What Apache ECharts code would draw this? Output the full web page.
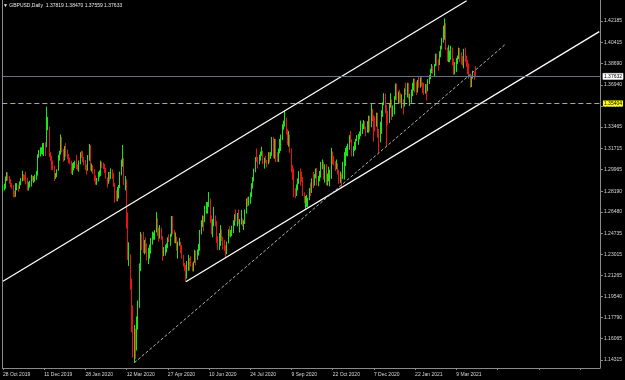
<!DOCTYPE html>
<html>
<head>
<meta charset="utf-8">
<script src="https://cdn.jsdelivr.net/npm/echarts@6/dist/echarts.min.js"></script>
<style>
  html, body { margin: 0; padding: 0; background: #000; }
  #chart { width: 625px; height: 380px; }
</style>
</head>
<body>
<div id="chart"></div>
<script>
// GBPUSD daily bars, rows are [open, high, low, close]
var oct2019 = [
  [1.2829,1.2868,1.2811,1.2857],[1.2857,1.2882,1.2826,1.2862],[1.2862,1.2940,1.2840,1.2925],[1.2925,1.2976,1.2903,1.2944]
];
var nov2019 = [
  [1.2944,1.2974,1.2906,1.2932],[1.2932,1.2943,1.2880,1.2892],[1.2892,1.2920,1.2853,1.2870],[1.2870,1.2885,1.2839,1.2860],
  [1.2860,1.2870,1.2770,1.2794],[1.2794,1.2823,1.2768,1.2773],[1.2773,1.2885,1.2773,1.2857],[1.2857,1.2885,1.2826,1.2858],
  [1.2858,1.2868,1.2815,1.2848],[1.2848,1.2900,1.2838,1.2891],[1.2891,1.2928,1.2868,1.2907],[1.2907,1.2987,1.2900,1.2941],
  [1.2941,1.2960,1.2905,1.2938],[1.2938,1.2954,1.2905,1.2932],[1.2932,1.2980,1.2875,1.2915],[1.2915,1.2930,1.2824,1.2834],
  [1.2834,1.2897,1.2825,1.2865],[1.2865,1.2905,1.2850,1.2866],[1.2866,1.2953,1.2858,1.2926],[1.2926,1.2946,1.2901,1.2915],
  [1.2915,1.2943,1.2887,1.2930]
];
var dec2019 = [
  [1.2930,1.2955,1.2897,1.2942],[1.2942,1.2986,1.2913,1.2954],[1.2954,1.3122,1.2947,1.3115],[1.3115,1.3158,1.3094,1.3148],
  [1.3148,1.3180,1.3105,1.3154],[1.3154,1.3180,1.3126,1.3154],[1.3154,1.3215,1.3119,1.3190],[1.3190,1.3215,1.3108,1.3200],
  [1.3200,1.3222,1.3107,1.3180],[1.3180,1.3514,1.3180,1.3329],[1.3329,1.3430,1.3320,1.3336],[1.3336,1.3350,1.3100,1.3110],
  [1.3110,1.3140,1.3070,1.3082],[1.3082,1.3110,1.2995,1.3030],[1.3030,1.3072,1.2991,1.3005],[1.3005,1.3030,1.2904,1.2932],
  [1.2932,1.2968,1.2920,1.2950],[1.2950,1.3000,1.2935,1.2990],[1.2990,1.3118,1.2987,1.3076],[1.3076,1.3152,1.3070,1.3121],
  [1.3121,1.3285,1.3119,1.3255]
];
var jan2020 = [
  [1.3255,1.3265,1.3139,1.3148],[1.3148,1.3167,1.3060,1.3079],[1.3079,1.3190,1.3072,1.3187],[1.3187,1.3214,1.3102,1.3130],
  [1.3130,1.3162,1.3081,1.3105],[1.3105,1.3125,1.3050,1.3068],[1.3068,1.3095,1.3040,1.3061],[1.3061,1.3070,1.2960,1.2994],
  [1.2994,1.3050,1.2953,1.3022],[1.3022,1.3059,1.2990,1.3033],[1.3033,1.3070,1.3009,1.3068],[1.3068,1.3118,1.3001,1.3010],
  [1.3010,1.3040,1.2990,1.3003],[1.3003,1.3072,1.2980,1.3045],[1.3045,1.3140,1.3040,1.3126],[1.3126,1.3152,1.3092,1.3113],
  [1.3113,1.3148,1.3060,1.3083],[1.3083,1.3100,1.3033,1.3070],[1.3070,1.3075,1.2992,1.3004],[1.3004,1.3040,1.2955,1.3001],
  [1.3001,1.3116,1.2987,1.3097],[1.3097,1.3208,1.3069,1.3200]
];
var feb2020 = [
  [1.3200,1.3200,1.2990,1.2998],[1.2998,1.3047,1.2980,1.3015],[1.3015,1.3034,1.2960,1.2993],[1.2993,1.3000,1.2900,1.2935],
  [1.2935,1.2950,1.2872,1.2890],[1.2890,1.2928,1.2871,1.2916],[1.2916,1.2980,1.2900,1.2950],[1.2950,1.2990,1.2934,1.2971],
  [1.2971,1.3070,1.2945,1.3048],[1.3048,1.3062,1.3008,1.3038],[1.3038,1.3055,1.3000,1.3010],[1.3010,1.3043,1.2968,1.2995],
  [1.2995,1.3010,1.2923,1.2925],[1.2925,1.2933,1.2850,1.2880],[1.2880,1.2977,1.2880,1.2960],[1.2960,1.2980,1.2900,1.2925],
  [1.2925,1.3007,1.2920,1.2992],[1.2992,1.2998,1.2920,1.2965],[1.2965,1.2970,1.2855,1.2880],[1.2880,1.2887,1.2725,1.2820]
];
var mar2020 = [
  [1.2820,1.2825,1.2737,1.2767],[1.2767,1.2855,1.2737,1.2810],[1.2810,1.2870,1.2760,1.2846],[1.2846,1.2980,1.2845,1.2964],
  [1.2964,1.3080,1.2950,1.3046],[1.3046,1.3200,1.3020,1.3090],[1.3090,1.3095,1.2870,1.2900],[1.2900,1.2945,1.2827,1.2902],
  [1.2902,1.2916,1.2513,1.2570],[1.2570,1.2645,1.2253,1.2280],[1.2280,1.2400,1.2205,1.2286],[1.2286,1.2300,1.2010,1.2060],
  [1.2060,1.2100,1.1660,1.1778],[1.1778,1.1880,1.1452,1.1590],[1.1590,1.1720,1.1409,1.1649],[1.1649,1.1690,1.1440,1.1525],
  [1.1525,1.1790,1.1510,1.1763],[1.1763,1.1920,1.1680,1.1885],[1.1885,1.2226,1.1860,1.2203],[1.2203,1.2485,1.2162,1.2458],
  [1.2458,1.2468,1.2335,1.2420],[1.2420,1.2485,1.2310,1.2405]
];
var apr2020 = [
  [1.2405,1.2418,1.2300,1.2410],[1.2410,1.2440,1.2310,1.2385],[1.2385,1.2390,1.2250,1.2265],[1.2265,1.2355,1.2220,1.2270],
  [1.2270,1.2380,1.2265,1.2345],[1.2345,1.2435,1.2305,1.2412],[1.2412,1.2487,1.2380,1.2453],[1.2453,1.2480,1.2420,1.2460],
  [1.2460,1.2500,1.2420,1.2495],[1.2495,1.2647,1.2480,1.2590],[1.2590,1.2598,1.2450,1.2480],[1.2480,1.2520,1.2405,1.2445],
  [1.2445,1.2540,1.2430,1.2502],[1.2502,1.2520,1.2420,1.2445],[1.2445,1.2450,1.2247,1.2300],[1.2300,1.2360,1.2285,1.2318],
  [1.2318,1.2380,1.2290,1.2345],[1.2345,1.2390,1.2315,1.2365],[1.2365,1.2440,1.2350,1.2425],[1.2425,1.2465,1.2400,1.2420],
  [1.2420,1.2470,1.2370,1.2465],[1.2465,1.2615,1.2445,1.2590]
];
var may2020 = [
  [1.2590,1.2615,1.2465,1.2490],[1.2490,1.2500,1.2393,1.2435],[1.2435,1.2480,1.2390,1.2440],[1.2440,1.2445,1.2330,1.2340],
  [1.2340,1.2405,1.2265,1.2400],[1.2400,1.2435,1.2370,1.2405],[1.2405,1.2405,1.2310,1.2335],[1.2335,1.2375,1.2265,1.2270],
  [1.2270,1.2296,1.2200,1.2210],[1.2210,1.2230,1.2165,1.2200],[1.2200,1.2212,1.2075,1.2110],[1.2110,1.2245,1.2100,1.2230],
  [1.2230,1.2295,1.2165,1.2250],[1.2250,1.2270,1.2165,1.2235],[1.2235,1.2285,1.2200,1.2225],[1.2225,1.2230,1.2160,1.2165],
  [1.2165,1.2240,1.2160,1.2235],[1.2235,1.2337,1.2230,1.2325],[1.2325,1.2330,1.2210,1.2270],[1.2270,1.2340,1.2255,1.2330],
  [1.2330,1.2385,1.2290,1.2345]
];
var jun2020 = [
  [1.2345,1.2500,1.2330,1.2488],[1.2488,1.2580,1.2465,1.2560],[1.2560,1.2620,1.2525,1.2585],[1.2585,1.2615,1.2490,1.2575],
  [1.2575,1.2700,1.2565,1.2670],[1.2670,1.2730,1.2635,1.2675],[1.2675,1.2730,1.2635,1.2720],[1.2720,1.2812,1.2690,1.2750],
  [1.2750,1.2760,1.2560,1.2590],[1.2590,1.2620,1.2465,1.2545],[1.2545,1.2590,1.2440,1.2560],[1.2560,1.2690,1.2530,1.2570],
  [1.2570,1.2620,1.2530,1.2550],[1.2550,1.2575,1.2395,1.2410],[1.2410,1.2450,1.2335,1.2350],[1.2350,1.2475,1.2335,1.2470],
  [1.2470,1.2540,1.2370,1.2490],[1.2490,1.2505,1.2410,1.2420],[1.2420,1.2445,1.2340,1.2415],[1.2415,1.2420,1.2330,1.2340],
  [1.2340,1.2375,1.2275,1.2305],[1.2305,1.2405,1.2300,1.2400]
];
var jul2020 = [
  [1.2400,1.2505,1.2390,1.2480],[1.2480,1.2530,1.2445,1.2475],[1.2475,1.2500,1.2440,1.2485],[1.2485,1.2535,1.2450,1.2490],
  [1.2490,1.2580,1.2475,1.2545],[1.2545,1.2630,1.2535,1.2610],[1.2610,1.2670,1.2570,1.2575],[1.2575,1.2640,1.2530,1.2615],
  [1.2615,1.2670,1.2545,1.2555],[1.2555,1.2590,1.2480,1.2565],[1.2565,1.2665,1.2545,1.2580],[1.2580,1.2595,1.2530,1.2565],
  [1.2565,1.2580,1.2500,1.2570],[1.2570,1.2670,1.2550,1.2645],[1.2645,1.2760,1.2635,1.2735],[1.2735,1.2770,1.2690,1.2725],
  [1.2725,1.2775,1.2700,1.2730],[1.2730,1.2810,1.2715,1.2790],[1.2790,1.2885,1.2770,1.2880],[1.2880,1.2935,1.2840,1.2930],
  [1.2930,1.3005,1.2900,1.2995],[1.2995,1.3100,1.2975,1.3095],[1.3095,1.3170,1.3060,1.3085]
];
var aug2020 = [
  [1.3085,1.3100,1.3005,1.3075],[1.3075,1.3120,1.3040,1.3085],[1.3085,1.3145,1.3070,1.3135],[1.3135,1.3185,1.3110,1.3145],
  [1.3145,1.3150,1.3040,1.3055],[1.3055,1.3095,1.3005,1.3070],[1.3070,1.3110,1.3050,1.3055],[1.3055,1.3075,1.3015,1.3050],
  [1.3050,1.3140,1.3040,1.3100],[1.3100,1.3140,1.3055,1.3090],[1.3090,1.3140,1.3085,1.3120],[1.3120,1.3265,1.3110,1.3245],
  [1.3245,1.3265,1.3090,1.3095],[1.3095,1.3250,1.3085,1.3240],[1.3240,1.3250,1.3060,1.3090],[1.3090,1.3140,1.3060,1.3085],
  [1.3085,1.3170,1.3060,1.3150],[1.3150,1.3250,1.3130,1.3235],[1.3235,1.3285,1.3150,1.3245],[1.3245,1.3370,1.3240,1.3350],
  [1.3350,1.3400,1.3325,1.3370]
];
var sep2020 = [
  [1.3370,1.3482,1.3350,1.3420],[1.3420,1.3425,1.3285,1.3305],[1.3305,1.3330,1.3200,1.3265],[1.3265,1.3315,1.3185,1.3275],
  [1.3275,1.3285,1.3135,1.3155],[1.3155,1.3170,1.2975,1.2990],[1.2990,1.3035,1.2910,1.2960],[1.2960,1.3005,1.2770,1.2795],
  [1.2795,1.2845,1.2762,1.2790],[1.2790,1.2875,1.2780,1.2850],[1.2850,1.2925,1.2825,1.2910],[1.2910,1.2985,1.2880,1.2950],
  [1.2950,1.3005,1.2865,1.2935],[1.2935,1.2980,1.2895,1.2920],[1.2920,1.2935,1.2780,1.2810],[1.2810,1.2810,1.2720,1.2730],
  [1.2730,1.2780,1.2675,1.2740],[1.2740,1.2790,1.2690,1.2745],[1.2745,1.2765,1.2690,1.2750],[1.2750,1.2845,1.2745,1.2830],
  [1.2830,1.2890,1.2780,1.2820],[1.2820,1.2925,1.2805,1.2920]
];
var oct2020 = [
  [1.2920,1.2980,1.2845,1.2880],[1.2880,1.2960,1.2865,1.2940],[1.2940,1.3005,1.2925,1.2975],[1.2975,1.3010,1.2865,1.2880],
  [1.2880,1.2945,1.2860,1.2925],[1.2925,1.2985,1.2900,1.2940],[1.2940,1.3060,1.2930,1.3045],[1.3045,1.3080,1.3000,1.3050],
  [1.3050,1.3060,1.2915,1.2925],[1.2925,1.3040,1.2890,1.3020],[1.3020,1.3040,1.2865,1.2915],[1.2915,1.2965,1.2865,1.2915],
  [1.2915,1.3020,1.2900,1.2950],[1.2950,1.2995,1.2860,1.2950],[1.2950,1.3175,1.2920,1.3140],[1.3140,1.3145,1.3040,1.3090],
  [1.3090,1.3110,1.3030,1.3040],[1.3040,1.3065,1.2985,1.3035],[1.3035,1.3080,1.3000,1.3040],[1.3040,1.3050,1.2955,1.2980],
  [1.2980,1.2995,1.2880,1.2930],[1.2930,1.2980,1.2885,1.2945]
];
var nov2020 = [
  [1.2945,1.2965,1.2855,1.2930],[1.2930,1.3060,1.2920,1.3050],[1.3050,1.3140,1.2915,1.3050],[1.3050,1.3175,1.3025,1.3145],
  [1.3145,1.3190,1.3110,1.3155],[1.3155,1.3210,1.3105,1.3180],[1.3180,1.3280,1.3160,1.3270],[1.3270,1.3315,1.3220,1.3230],
  [1.3230,1.3245,1.3105,1.3125],[1.3125,1.3190,1.3105,1.3190],[1.3190,1.3225,1.3150,1.3190],[1.3190,1.3250,1.3160,1.3245],
  [1.3245,1.3280,1.3230,1.3260],[1.3260,1.3290,1.3200,1.3265],[1.3265,1.3310,1.3245,1.3285],[1.3285,1.3400,1.3270,1.3325],
  [1.3325,1.3375,1.3290,1.3350],[1.3350,1.3405,1.3330,1.3360],[1.3360,1.3395,1.3325,1.3340],[1.3340,1.3350,1.3270,1.3315],
  [1.3315,1.3395,1.3300,1.3330]
];
var dec2020 = [
  [1.3330,1.3440,1.3300,1.3365],[1.3365,1.3440,1.3310,1.3360],[1.3360,1.3540,1.3345,1.3450],[1.3450,1.3495,1.3395,1.3440],
  [1.3440,1.3445,1.3225,1.3385],[1.3385,1.3435,1.3310,1.3365],[1.3365,1.3465,1.3350,1.3460],[1.3460,1.3465,1.3260,1.3290],
  [1.3290,1.3330,1.3135,1.3225],[1.3225,1.3390,1.3220,1.3320],[1.3320,1.3485,1.3290,1.3470],[1.3470,1.3550,1.3430,1.3550],
  [1.3550,1.3625,1.3525,1.3590],[1.3590,1.3620,1.3460,1.3510],[1.3510,1.3530,1.3190,1.3450],[1.3450,1.3480,1.3365,1.3395],
  [1.3395,1.3540,1.3380,1.3530],[1.3530,1.3625,1.3505,1.3555],[1.3555,1.3575,1.3405,1.3445],[1.3445,1.3525,1.3430,1.3460],
  [1.3460,1.3600,1.3450,1.3580],[1.3580,1.3705,1.3570,1.3670]
];
var jan2021 = [
  [1.3670,1.3705,1.3565,1.3570],[1.3570,1.3640,1.3540,1.3615],[1.3615,1.3655,1.3545,1.3605],[1.3605,1.3625,1.3540,1.3560],
  [1.3560,1.3615,1.3500,1.3565],[1.3565,1.3575,1.3450,1.3520],[1.3520,1.3665,1.3515,1.3650],[1.3650,1.3710,1.3610,1.3640],
  [1.3640,1.3710,1.3590,1.3680],[1.3680,1.3710,1.3575,1.3590],[1.3590,1.3620,1.3520,1.3590],[1.3590,1.3655,1.3545,1.3640],
  [1.3640,1.3710,1.3600,1.3665],[1.3665,1.3745,1.3645,1.3730],[1.3730,1.3745,1.3630,1.3685],[1.3685,1.3720,1.3610,1.3680],
  [1.3680,1.3735,1.3630,1.3725],[1.3725,1.3760,1.3670,1.3690],[1.3690,1.3755,1.3670,1.3740],[1.3740,1.3760,1.3680,1.3705]
];
var feb2021 = [
  [1.3705,1.3715,1.3625,1.3665],[1.3665,1.3710,1.3610,1.3650],[1.3650,1.3700,1.3620,1.3675],[1.3675,1.3700,1.3565,1.3665],
  [1.3665,1.3740,1.3640,1.3730],[1.3730,1.3775,1.3700,1.3750],[1.3750,1.3825,1.3740,1.3810],[1.3810,1.3865,1.3790,1.3830],
  [1.3830,1.3850,1.3785,1.3820],[1.3820,1.3865,1.3765,1.3850],[1.3850,1.3950,1.3845,1.3920],[1.3920,1.3950,1.3850,1.3880],
  [1.3880,1.3905,1.3810,1.3870],[1.3870,1.3970,1.3855,1.3960],[1.3960,1.4015,1.3920,1.4010],[1.4010,1.4080,1.3985,1.4060],
  [1.4060,1.4180,1.4040,1.4090],[1.4090,1.4240,1.4065,1.4150],[1.4150,1.4200,1.3980,1.3990],[1.3990,1.4000,1.3885,1.3930]
];
var mar2021 = [
  [1.3930,1.4020,1.3880,1.3935],[1.3935,1.3975,1.3880,1.3950],[1.3950,1.4015,1.3900,1.3960],[1.3960,1.4000,1.3855,1.3895],
  [1.3895,1.3910,1.3775,1.3830],[1.3830,1.3880,1.3780,1.3830],[1.3830,1.3915,1.3800,1.3890],[1.3890,1.3935,1.3865,1.3925],
  [1.3925,1.4000,1.3905,1.3990],[1.3990,1.3995,1.3880,1.3930],[1.3930,1.3960,1.3860,1.3910],[1.3910,1.3930,1.3850,1.3880],
  [1.3880,1.3990,1.3830,1.3960],[1.3960,1.4000,1.3880,1.3920],[1.3920,1.3935,1.3840,1.3865],[1.3865,1.3900,1.3780,1.3860],
  [1.3860,1.3870,1.3745,1.3745],[1.3745,1.3780,1.3670,1.3680],[1.3680,1.3770,1.3675,1.3760],[1.3760,1.3810,1.3745,1.3790],
  [1.3790,1.3800,1.3735,1.3782],[1.37819,1.38470,1.37559,1.37633]
];

// price scale labels on the right
var yTicks = [1.42185, 1.40415, 1.38690, 1.36940, 1.35190, 1.33465, 1.31715, 1.29965, 1.28190,
              1.26480, 1.24735, 1.23015, 1.21265, 1.19540, 1.17790, 1.16065, 1.14315];
// time scale labels, one every 32 bars
var xLabels = ["28 Oct 2019", "11 Dec 2019", "28 Jan 2020", "12 Mar 2020", "27 Apr 2020", "10 Jun 2020",
               "24 Jul 2020", "9 Sep 2020", "22 Oct 2020", "7 Dec 2020", "22 Jan 2021", "9 Mar 2021"];

var bidPrice = 1.37632;
var levelPrice = 1.35404;
var titleText = "\u25BC GBPUSD,Daily  1.37819 1.38470 1.37559 1.37633";

// trend line anchors: [bar index, price]
var channelTop = [[0, 1.2079], [360, 1.4385]];
var channelBottom = [[142, 1.2075], [463, 1.4131]];
var supportLine = [[102, 1.1409], [390, 1.4026]];

var SLOTS = 464;   // bars that fit across the chart window
var MONTHS = ["Jan","Feb","Mar","Apr","May","Jun","Jul","Aug","Sep","Oct","Nov","Dec"];

var rows = [].concat(oct2019, nov2019, dec2019, jan2020, feb2020, mar2020, apr2020, may2020, jun2020,
  jul2020, aug2020, sep2020, oct2020, nov2020, dec2020, jan2021, feb2021, mar2021);

// trading days (no weekends, no 25 Dec / 1 Jan)
var categories = [];
var d = new Date(2019, 9, 28);
while (categories.length < SLOTS) {
  var wd = d.getDay();
  var holiday = (d.getMonth() === 11 && d.getDate() === 25) || (d.getMonth() === 0 && d.getDate() === 1);
  if (wd !== 0 && wd !== 6 && !holiday) {
    categories.push(d.getDate() + " " + MONTHS[d.getMonth()] + " " + d.getFullYear());
  }
  d.setDate(d.getDate() + 1);
}

var candles = rows.map(function(r) {
  return [r[0], r[3], r[2], r[1]];
});

function segment(pts, style) {
  return [
    { coord: [categories[pts[0][0]], pts[0][1]], lineStyle: style, label: { show: false } },
    { coord: [categories[pts[1][0]], pts[1][1]] }
  ];
}

var FONT = "'Liberation Sans', Arial, sans-serif";
var GREY = "#8a8a8a";
var TXT = "#d8d8d8";
var yMin = 1.13657, yMax = 1.43911;

var chart = echarts.init(document.getElementById("chart"), null, { renderer: "canvas" });

chart.setOption({
  backgroundColor: "#000000",
  animation: false,
  title: {
    text: titleText,
    left: 3,
    top: 3,
    padding: 0,
    textStyle: { color: "#e8e8e8", fontSize: 5, fontWeight: "normal", fontFamily: FONT }
  },
  grid: { left: 1, right: 24, top: 0, bottom: 12, containLabel: false },
  xAxis: {
    type: "category",
    data: categories,
    boundaryGap: true,
    axisLine: { show: true, lineStyle: { color: GREY, width: 1 } },
    axisTick: { show: true, interval: 31, alignWithLabel: true, length: 2, lineStyle: { color: GREY } },
    axisLabel: {
      interval: 31,
      align: "left",
      margin: 4,
      color: TXT,
      fontSize: 5,
      fontFamily: FONT,
      formatter: function(value, index) {
        return xLabels[index / 32] || "";
      }
    },
    splitLine: { show: false }
  },
  yAxis: [{
    type: "value",
    position: "right",
    min: yMin,
    max: yMax,
    axisLine: { show: true, lineStyle: { color: GREY, width: 1 } },
    axisTick: { show: true, length: 3, customValues: yTicks, lineStyle: { color: GREY } },
    axisLabel: {
      customValues: yTicks,
      margin: 4,
      color: TXT,
      fontSize: 5,
      fontFamily: FONT,
      formatter: function(v) { return v.toFixed(5); }
    },
    splitLine: { show: false }
  }, {
    type: "value",
    position: "left",
    min: yMin,
    max: yMax,
    axisLine: { show: true, lineStyle: { color: GREY, width: 1 } },
    axisTick: { show: false },
    axisLabel: { show: false },
    splitLine: { show: false }
  }],
  series: [{
    type: "candlestick",
    data: candles,
    barWidth: 1,
    itemStyle: {
      color: "#19e619",
      color0: "#e81414",
      borderColor: "#19e619",
      borderColor0: "#e81414",
      borderWidth: 1
    },
    markLine: {
      silent: true,
      precision: 5,
      symbol: ["none", "none"],
      animation: false,
      data: [
        segment(channelTop, { color: "#ffffff", width: 1.3, type: "solid" }),
        segment(channelBottom, { color: "#ffffff", width: 1.3, type: "solid" }),
        segment(supportLine, { color: "#b4b4b4", width: 1, type: [3, 2] }),
        {
          yAxis: bidPrice,
          lineStyle: { color: "#6a7080", width: 1, type: "solid" },
          label: {
            show: true, position: "end", distance: 3, formatter: bidPrice.toFixed(5),
            color: "#000", backgroundColor: "#ffffff", borderColor: "#9a9a9a", borderWidth: 0.5,
            padding: [1, 1, 0, 1], fontSize: 5, fontFamily: FONT
          }
        },
        {
          yAxis: levelPrice,
          lineStyle: { color: "#bcbc00", width: 1, type: [5, 3] },
          label: {
            show: true, position: "end", distance: 3, formatter: levelPrice.toFixed(5),
            color: "#000", backgroundColor: "#ffff00",
            padding: [1, 1, 0, 1], fontSize: 5, fontFamily: FONT
          }
        }
      ]
    }
  }]
});
</script>
</body>
</html>
